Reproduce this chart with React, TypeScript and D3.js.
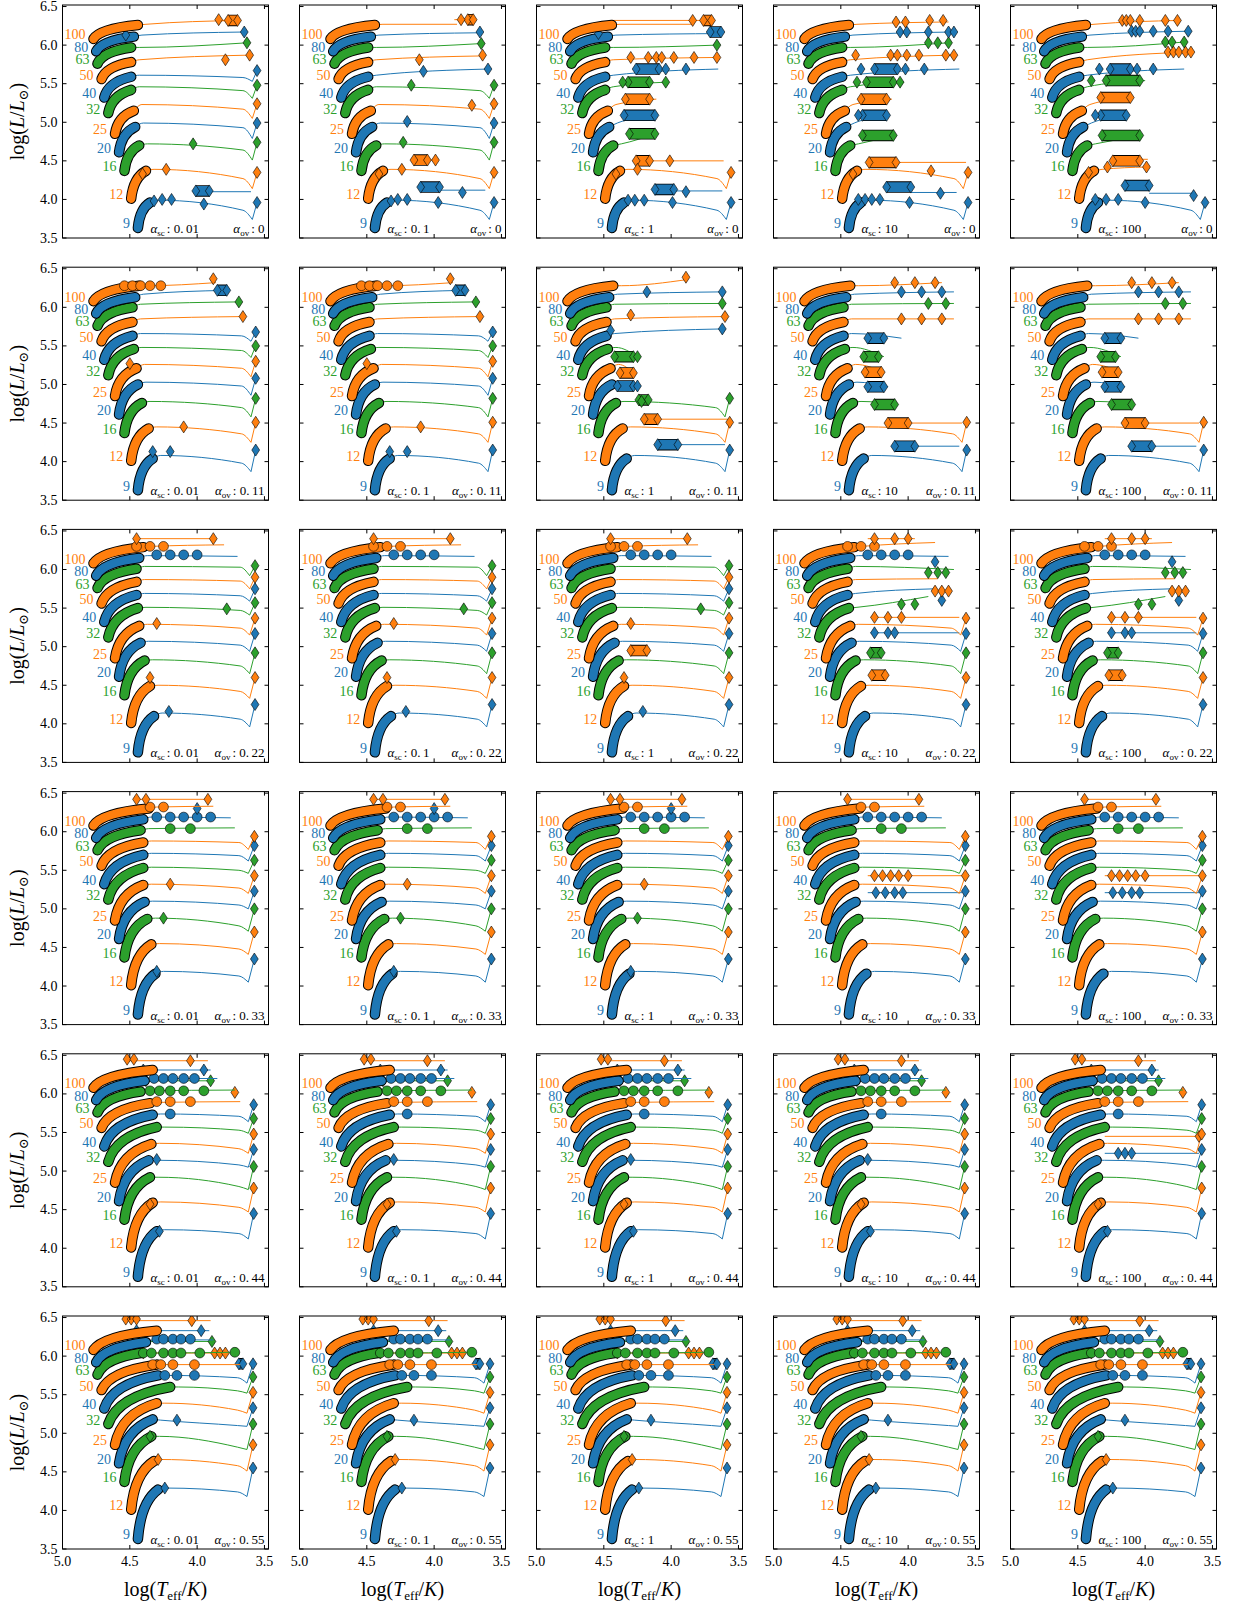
import { useEffect, useRef } from "react";
import * as d3 from "d3";

const masses = [9, 12, 16, 20, 25, 32, 40, 50, 63, 80, 100];
const trackColors = ["#1f77b4", "#ff7f0e", "#2ca02c"];
const scLabels = ["0.01", "0.1", "1", "10", "100"];
const ovLabels = ["0", "0.11", "0.22", "0.33", "0.44", "0.55"];
const xTicks = [5.0, 4.5, 4.0, 3.5];
const yTicks = [3.5, 4.0, 4.5, 5.0, 5.5, 6.0, 6.5];

// zero-age main sequence, same in every panel
const zamsT = [4.44, 4.49, 4.54, 4.58, 4.61, 4.66, 4.69, 4.71, 4.74, 4.75, 4.77];
const zamsL = [3.63, 4.01, 4.37, 4.61, 4.85, 5.12, 5.32, 5.56, 5.76, 5.92, 6.08];

// per overshoot row
const tamsT = [
  [4.35, 4.38, 4.43, 4.46, 4.47, 4.49, 4.49, 4.49, 4.49, 4.47, 4.44],
  [4.33, 4.36, 4.41, 4.44, 4.45, 4.47, 4.48, 4.48, 4.48, 4.46, 4.43],
  [4.32, 4.35, 4.39, 4.42, 4.43, 4.44, 4.45, 4.45, 4.45, 4.43, 4.40],
  [4.31, 4.34, 4.37, 4.39, 4.40, 4.40, 4.40, 4.40, 4.42, 4.40, 4.36],
  [4.30, 4.33, 4.35, 4.36, 4.34, 4.30, 4.33, 4.35, 4.42, 4.39, 4.33],
  [4.29, 4.32, 4.34, 4.33, 4.30, 4.20, 4.29, 4.30, 4.42, 4.38, 4.30],
];
const tamsL = [
  [3.96, 4.37, 4.70, 4.94, 5.15, 5.42, 5.59, 5.78, 5.97, 6.11, 6.26],
  [4.04, 4.43, 4.76, 5.00, 5.21, 5.46, 5.63, 5.81, 6.00, 6.13, 6.28],
  [4.10, 4.49, 4.82, 5.05, 5.27, 5.50, 5.67, 5.84, 6.01, 6.15, 6.29],
  [4.16, 4.54, 4.87, 5.09, 5.31, 5.53, 5.70, 5.86, 6.02, 6.16, 6.30],
  [4.22, 4.59, 4.92, 5.14, 5.35, 5.57, 5.73, 5.88, 6.03, 6.17, 6.31],
  [4.27, 4.64, 4.96, 5.18, 5.39, 5.60, 5.75, 5.89, 6.04, 6.18, 6.33],
];
const crossL = [
  [3.99, 4.39, 4.72, 4.99, 5.23, 5.46, 5.61, 5.81, 5.97, 6.13, 6.27],
  [4.08, 4.45, 4.78, 5.03, 5.26, 5.48, 5.66, 5.85, 6.04, 6.17, 6.28],
  [4.14, 4.50, 4.83, 5.07, 5.29, 5.51, 5.69, 5.87, 6.04, 6.18, 6.30],
  [4.19, 4.55, 4.88, 5.10, 5.32, 5.54, 5.72, 5.88, 6.04, 6.19, 6.32],
  [4.24, 4.60, 4.92, 5.14, 5.36, 5.57, 5.74, 5.89, 6.04, 6.20, 6.32],
  [4.29, 4.66, 4.96, 5.17, 5.39, 5.60, 5.75, 5.89, 6.04, 6.21, 6.33],
];
const redL = [
  [3.86, 4.27, 4.64, 4.93, 5.17, 5.41, 5.58, 5.79, 5.96, 6.12, 6.27],
  [3.98, 4.36, 4.70, 4.98, 5.21, 5.44, 5.63, 5.83, 6.02, 6.16, 6.28],
  [4.06, 4.42, 4.75, 5.02, 5.24, 5.47, 5.66, 5.85, 6.03, 6.17, 6.30],
  [4.13, 4.48, 4.78, 5.05, 5.27, 5.50, 5.69, 5.86, 6.03, 6.18, 6.32],
  [4.19, 4.53, 4.80, 5.08, 5.29, 5.53, 5.71, 5.87, 6.03, 6.19, 6.32],
  [4.24, 4.58, 4.82, 5.10, 5.30, 5.55, 5.72, 5.87, 6.03, 6.20, 6.33],
];
const dipL = [
  [3.74, 4.14, 4.51, 4.79, 5.05, 5.31, 5.53, 5.70, 5.88, 6.05, 6.20],
  [3.87, 4.25, 4.58, 4.86, 5.10, 5.35, 5.56, 5.72, 5.90, 6.06, 6.22],
  [3.96, 4.33, 4.65, 4.94, 5.15, 5.41, 5.59, 5.75, 5.92, 6.07, 6.24],
  [4.05, 4.41, 4.71, 5.00, 5.20, 5.46, 5.62, 5.77, 5.93, 6.08, 6.26],
  [4.12, 4.47, 4.76, 5.05, 5.23, 5.49, 5.64, 5.79, 5.94, 6.09, 6.28],
  [4.18, 4.51, 4.79, 5.09, 5.26, 5.52, 5.65, 5.80, 5.95, 6.10, 6.30],
];
const rsgL = [
  [3.96, 4.35, 4.74, 4.99, 5.24, 5.48, 5.67, 5.85, 6.02, 6.17, 6.30],
  [4.15, 4.51, 4.82, 5.08, 5.30, 5.50, 5.68, 5.86, 6.03, 6.18, 6.31],
  [4.25, 4.60, 4.92, 5.17, 5.37, 5.57, 5.75, 5.90, 6.05, 6.19, 6.33],
  [4.35, 4.70, 5.00, 5.23, 5.43, 5.63, 5.82, 5.94, 6.07, 6.20, 6.35],
  [4.45, 4.78, 5.06, 5.28, 5.48, 5.68, 5.86, 5.97, 6.08, 6.20, 6.37],
  [4.55, 4.85, 5.12, 5.33, 5.53, 5.73, 5.90, 6.00, 6.10, 6.20, 6.40],
];
const dipTRow = [3.59, 3.6, 3.61, 3.62, 3.62, 3.63];
const rsgTRow = [3.555, 3.565, 3.57, 3.575, 3.58, 3.585];

// tracks that end early, per panel: [massIndex, logT, logL]
const stopsA = [[7, 3.61, 5.87], [8, 3.63, 6.03], [9, 3.65, 6.17], [10, 3.69, 6.32]];
const stopsB = [[6, 3.6, 5.69], [7, 3.64, 5.86], [8, 3.65, 6.02], [9, 3.66, 6.16], [10, 3.83, 6.27]];
const stopsC = [[2, 4.12, 4.85], [3, 4.12, 5.09], [4, 4.11, 5.3], [5, 4.03, 5.52], [6, 3.65, 5.69], [7, 3.66, 5.84], [8, 3.66, 6.0], [9, 3.62, 6.15], [10, 3.85, 6.27]];
const stopsD = [[2, 4.11, 4.83], [3, 4.16, 5.09], [4, 4.12, 5.3], [5, 4.03, 5.52], [6, 3.62, 5.69], [7, 3.66, 5.87], [8, 3.7, 6.03], [9, 3.66, 6.17], [10, 3.7, 6.3]];
const stopsE = [[1, 3.99, 4.42], [2, 4.04, 4.83], [3, 4.14, 5.09], [4, 4.1, 5.32], [5, 4.0, 5.54], [6, 3.71, 5.69], [7, 3.66, 5.91], [8, 3.71, 6.04], [9, 3.68, 6.18], [10, 3.74, 6.32]];
const stopsF = [[7, 3.66, 5.88], [8, 3.69, 6.07], [9, 3.78, 6.22], [10, 3.86, 6.32]];
const stopsG = [[3, 4.25, 4.98], [4, 4.28, 5.15], [5, 4.25, 5.36], [6, 3.62, 5.72], [7, 3.6, 5.88], [8, 3.62, 6.05], [9, 3.62, 6.2], [10, 3.88, 6.36]];
const stopsH = [[2, 4.08, 4.74], [3, 4.15, 4.97], [4, 4.18, 5.16], [5, 4.18, 5.36], [6, 4.05, 5.6], [7, 3.66, 5.85], [8, 3.66, 6.05], [9, 3.66, 6.2], [10, 3.75, 6.32]];
const stopsI = [[9, 3.7, 6.17], [10, 3.8, 6.32]];
const stopsJ = [[5, 3.85, 5.65], [6, 3.8, 5.75], [7, 3.78, 5.88], [8, 3.66, 6.0], [9, 3.7, 6.17], [10, 3.8, 6.35]];
const stopsK = [[8, 3.72, 6.05], [9, 3.75, 6.18], [10, 3.88, 6.33]];
const stopsM = [[7, 3.68, 5.9], [8, 3.72, 6.05], [9, 3.85, 6.2], [10, 4.33, 6.31]];
const stopsN = [[7, 3.68, 5.89], [8, 3.72, 6.05], [9, 3.88, 6.21], [10, 4.3, 6.33]];

const panelStops = [
  stopsA, stopsB, stopsC, stopsD, stopsE,
  stopsF, stopsF, stopsG, stopsH, stopsH,
  stopsI, stopsI, stopsI, stopsJ, stopsJ,
  stopsK, stopsK, stopsK, stopsK, stopsK,
  stopsM, stopsM, stopsM, stopsM, stopsM,
  stopsN, stopsN, stopsN, stopsN, stopsN,
];

// diamond markers: [massIndex, logT, logL]
const diamondsR5 = [[10, 4.53, 6.48], [10, 4.49, 6.48], [10, 4.45, 6.48], [10, 4.04, 6.46], [9, 4.45, 6.33], [9, 3.97, 6.33], [8, 4.4, 6.19], [8, 3.89, 6.19], [7, 4.4, 6.04], [7, 3.87, 6.04], [7, 3.83, 6.04], [7, 3.79, 6.04], [3, 4.15, 5.17], [2, 4.35, 4.96], [1, 4.29, 4.66], [0, 4.24, 4.29]];
const diamondsR4 = [[10, 4.52, 6.45], [10, 4.47, 6.45], [10, 4.05, 6.43], [9, 4.4, 6.31], [9, 3.95, 6.31], [8, 4.38, 6.17], [8, 3.9, 6.17], [7, 3.72, 6.02], [3, 4.3, 5.15], [1, 4.35, 4.57], [0, 4.28, 4.22]];
const diamondsR4e = [[10, 4.52, 6.45], [10, 4.47, 6.45], [10, 4.05, 6.43], [9, 4.4, 6.31], [9, 3.95, 6.31], [8, 4.38, 6.17], [8, 3.9, 6.17], [7, 3.72, 6.02], [3, 4.2, 5.23], [3, 4.15, 5.23], [3, 4.1, 5.23], [4, 3.6, 5.45], [1, 4.35, 4.57], [0, 4.28, 4.22]];
const diamondsR3 = [[10, 4.45, 6.42], [10, 4.38, 6.42], [10, 3.92, 6.42], [9, 4.0, 6.3], [4, 4.2, 5.32], [2, 4.25, 4.88], [0, 4.3, 4.19]];
const diamondsR3b = [[10, 4.45, 6.42], [10, 3.92, 6.42], [4, 4.25, 5.43], [4, 4.19, 5.43], [4, 4.13, 5.43], [4, 4.07, 5.43], [4, 4.0, 5.43], [3, 4.24, 5.21], [3, 4.17, 5.21], [3, 4.1, 5.21], [3, 4.04, 5.21]];
const diamondsR2 = [[10, 4.45, 6.4], [10, 3.88, 6.4], [5, 3.78, 5.49], [4, 4.3, 5.3], [1, 4.35, 4.6], [0, 4.21, 4.16]];
const diamondsR2b = [[10, 4.25, 6.4], [10, 4.1, 6.4], [10, 4.0, 6.4], [9, 3.8, 6.1], [8, 3.85, 5.96], [8, 3.78, 5.96], [8, 3.72, 5.96], [7, 3.8, 5.72], [7, 3.75, 5.72], [7, 3.7, 5.72], [6, 3.75, 5.6], [5, 4.05, 5.55], [5, 3.95, 5.55], [4, 4.25, 5.38], [4, 4.15, 5.38], [4, 4.05, 5.38], [3, 4.25, 5.18], [3, 4.15, 5.18], [3, 4.1, 5.18]];
const diamondsR1 = [[10, 3.88, 6.37], [8, 3.69, 6.07], [7, 3.66, 5.88], [4, 4.5, 5.27], [1, 4.1, 4.45], [0, 4.33, 4.13], [0, 4.2, 4.13]];
const diamondsR1c = [[10, 3.89, 6.39], [9, 4.18, 6.2], [9, 3.62, 6.2], [8, 3.62, 6.05], [7, 4.3, 5.9], [7, 3.6, 5.88], [6, 4.45, 5.7], [6, 3.62, 5.72], [5, 4.25, 5.36], [3, 4.25, 4.98], [2, 4.22, 4.78]];
const diamondsR1d = [[10, 4.1, 6.32], [10, 3.95, 6.32], [10, 3.8, 6.32], [9, 4.05, 6.2], [9, 3.9, 6.2], [9, 3.75, 6.2], [8, 3.85, 6.05], [8, 3.72, 6.05], [7, 4.05, 5.85], [7, 3.9, 5.85], [7, 3.75, 5.85]];

const panelDiamonds = [
  [[10, 3.84, 6.33], [9, 4.53, 6.13], [9, 3.65, 6.17], [8, 3.63, 6.03], [7, 3.79, 5.81], [7, 3.61, 5.87], [2, 4.03, 4.72], [1, 4.405, 4.33], [1, 4.23, 4.39], [0, 4.32, 3.98], [0, 4.26, 4.0], [0, 4.19, 4.0], [0, 3.95, 3.94]],
  [[10, 3.8, 6.33], [9, 3.66, 6.17], [8, 3.65, 6.02], [7, 4.11, 5.81], [7, 3.64, 5.87], [6, 4.08, 5.66], [6, 3.6, 5.69], [5, 4.17, 5.48], [4, 3.72, 5.22], [3, 4.2, 5.01], [2, 4.23, 4.74], [1, 4.41, 4.33], [1, 4.24, 4.39], [1, 3.99, 4.51], [0, 4.32, 3.98], [0, 4.27, 4.0], [0, 4.2, 4.0], [0, 3.79, 4.09], [0, 3.97, 3.96]],
  [[10, 3.84, 6.32], [9, 4.54, 6.15], [8, 3.66, 6.0], [7, 4.3, 5.84], [7, 4.17, 5.84], [7, 4.11, 5.84], [7, 4.07, 5.84], [7, 3.98, 5.84], [7, 3.83, 5.84], [7, 3.66, 5.84], [6, 4.04, 5.69], [6, 3.89, 5.69], [5, 4.36, 5.52], [5, 4.04, 5.52], [1, 4.41, 4.33], [1, 4.25, 4.39], [1, 4.01, 4.5], [0, 4.32, 3.99], [0, 4.27, 3.99], [0, 4.2, 3.99], [0, 3.89, 4.1], [0, 3.99, 3.96]],
  [[10, 4.09, 6.3], [10, 4.02, 6.3], [10, 3.84, 6.32], [10, 3.74, 6.32], [9, 4.06, 6.17], [9, 4.01, 6.17], [9, 3.85, 6.17], [9, 3.7, 6.17], [9, 3.66, 6.17], [8, 3.85, 6.03], [8, 3.78, 6.03], [8, 3.7, 6.03], [7, 4.39, 5.87], [7, 4.13, 5.87], [7, 4.08, 5.87], [7, 4.01, 5.87], [7, 3.92, 5.87], [7, 3.72, 5.87], [7, 3.66, 5.87], [6, 4.35, 5.69], [6, 4.02, 5.69], [6, 3.88, 5.69], [5, 4.38, 5.52], [5, 4.06, 5.52], [3, 4.37, 5.09], [1, 4.41, 4.33], [1, 3.83, 4.37], [0, 4.37, 4.0], [0, 4.32, 4.0], [0, 4.27, 4.0], [0, 4.21, 4.0], [0, 3.76, 4.08], [0, 3.99, 3.96]],
  [[10, 4.17, 6.32], [10, 4.14, 6.32], [10, 4.11, 6.32], [10, 4.04, 6.32], [10, 3.85, 6.32], [10, 3.76, 6.32], [9, 4.1, 6.18], [9, 4.07, 6.18], [9, 4.04, 6.18], [9, 3.94, 6.18], [9, 3.83, 6.18], [9, 3.68, 6.18], [8, 3.85, 6.04], [8, 3.8, 6.04], [8, 3.71, 6.04], [7, 3.83, 5.91], [7, 3.79, 5.91], [7, 3.75, 5.91], [7, 3.7, 5.91], [7, 3.66, 5.91], [6, 4.34, 5.69], [6, 4.06, 5.69], [6, 3.94, 5.69], [5, 4.4, 5.54], [3, 4.37, 5.09], [1, 4.42, 4.35], [1, 4.28, 4.42], [1, 3.99, 4.42], [0, 4.37, 4.0], [0, 4.29, 4.0], [0, 4.2, 4.0], [0, 3.64, 4.05], [0, 4.0, 3.96]],
  diamondsR1, diamondsR1, diamondsR1c, diamondsR1d, diamondsR1d,
  diamondsR2, diamondsR2, diamondsR2, diamondsR2b, diamondsR2b,
  diamondsR3, diamondsR3, diamondsR3, diamondsR3b, diamondsR3b,
  diamondsR4, diamondsR4, diamondsR4, diamondsR4, diamondsR4e,
  diamondsR5, diamondsR5, diamondsR5, diamondsR5, diamondsR5,
];

// dense marker clusters: [massIndex, logT from, logT to, logL]
const blobsR1c = [[5, 4.42, 4.28, 5.36], [4, 4.38, 4.28, 5.15], [3, 4.4, 4.28, 4.98], [2, 4.24, 4.17, 4.8], [1, 4.2, 4.1, 4.55], [0, 4.1, 3.95, 4.22]];
const blobsR1d = [[6, 4.3, 4.18, 5.6], [5, 4.33, 4.22, 5.36], [4, 4.32, 4.2, 5.16], [3, 4.3, 4.18, 4.97], [2, 4.25, 4.1, 4.74], [1, 4.15, 4.0, 4.5], [0, 4.1, 3.95, 4.2]];
const blobsR2b = [[2, 4.28, 4.2, 4.92], [1, 4.27, 4.17, 4.63]];
const panelBlobs = [
  [[10, 3.77, 3.7, 6.32], [0, 4.01, 3.91, 4.11]],
  [[10, 3.75, 3.71, 6.33], [1, 4.15, 4.05, 4.51], [0, 4.1, 3.96, 4.16]],
  [[10, 3.76, 3.7, 6.32], [9, 3.71, 3.63, 6.17], [6, 4.26, 4.09, 5.69], [5, 4.32, 4.16, 5.52], [4, 4.34, 4.16, 5.3], [3, 4.35, 4.12, 5.09], [2, 4.31, 4.12, 4.85], [1, 4.26, 4.16, 4.5], [0, 4.12, 3.98, 4.13]],
  [[6, 4.25, 4.08, 5.69], [5, 4.31, 4.11, 5.52], [4, 4.35, 4.16, 5.3], [3, 4.34, 4.16, 5.09], [2, 4.34, 4.11, 4.83], [1, 4.29, 4.09, 4.48], [0, 4.16, 3.98, 4.16]],
  [[6, 4.26, 4.11, 5.69], [5, 4.29, 4.04, 5.54], [4, 4.33, 4.11, 5.32], [3, 4.33, 4.14, 5.09], [2, 4.32, 4.04, 4.83], [1, 4.24, 4.04, 4.5], [0, 4.15, 3.97, 4.18]],
  [[9, 3.85, 3.78, 6.22]], [[9, 3.84, 3.77, 6.22]], blobsR1c, blobsR1d, blobsR1d,
  [], [], [[4, 4.3, 4.18, 4.95]], blobsR2b, blobsR2b,
  [], [], [], [], [],
  [], [], [], [], [],
  [[6, 3.69, 3.66, 5.9]], [[6, 3.69, 3.66, 5.9]], [[6, 3.69, 3.66, 5.9]], [[6, 3.69, 3.66, 5.9]], [[6, 3.69, 3.66, 5.9]],
];

// circle markers: [massIndex, logT, logL]
const circlesR1 = [[10, 4.54, 6.28], [10, 4.48, 6.28], [10, 4.42, 6.28], [10, 4.35, 6.28], [10, 4.27, 6.28]];
const circlesR2 = [[10, 4.45, 6.3], [10, 4.35, 6.3], [10, 4.25, 6.3], [9, 4.3, 6.19], [9, 4.2, 6.19], [9, 4.1, 6.19], [9, 4.0, 6.19]];
const circlesR3 = [[10, 4.35, 6.32], [10, 4.25, 6.32], [9, 4.3, 6.19], [9, 4.2, 6.19], [9, 4.1, 6.19], [9, 4.0, 6.19], [9, 3.9, 6.19], [8, 4.2, 6.04], [8, 4.05, 6.04]];
const circlesR4 = [[9, 4.32, 6.2], [9, 4.25, 6.2], [9, 4.18, 6.2], [9, 4.1, 6.2], [9, 4.02, 6.2], [8, 4.35, 6.04], [8, 4.28, 6.04], [8, 4.2, 6.04], [8, 4.1, 6.04], [8, 3.95, 6.04], [7, 4.3, 5.9], [7, 4.2, 5.9], [7, 4.05, 5.9], [6, 4.2, 5.74]];
const circlesR5 = [[9, 4.3, 6.22], [9, 4.25, 6.22], [9, 4.18, 6.22], [9, 4.12, 6.22], [9, 4.05, 6.22], [8, 4.4, 6.04], [8, 4.34, 6.04], [8, 4.25, 6.04], [8, 4.18, 6.04], [8, 4.12, 6.04], [8, 3.98, 6.04], [8, 3.72, 6.05], [7, 4.33, 5.89], [7, 4.27, 5.89], [7, 4.18, 5.89], [7, 4.02, 5.89], [6, 4.24, 5.75], [6, 4.15, 5.75], [6, 4.02, 5.75]];
const panelCircles = [
  [], [], [], [], [],
  circlesR1, circlesR1, [], [], [],
  circlesR2, circlesR2, circlesR2, circlesR2, circlesR2,
  circlesR3, circlesR3, circlesR3, circlesR3, circlesR3,
  circlesR4, circlesR4, circlesR4, circlesR4, circlesR4,
  circlesR5, circlesR5, circlesR5, circlesR5, circlesR5,
];

// extra thin track pieces (loops): [massIndex, logT from, logT to, logL]
const branchesR2 = [[10, 4.45, 3.88, 6.4]];
const branchesR2b = [[10, 4.3, 3.95, 6.4], [4, 4.28, 3.62, 5.38], [3, 4.28, 3.62, 5.18]];
const branchesR3 = [[10, 4.45, 3.9, 6.42]];
const branchesR3b = [[10, 4.45, 3.9, 6.42], [4, 4.3, 3.6, 5.43], [3, 4.3, 3.6, 5.21]];
const branchesR4 = [[10, 4.52, 3.92, 6.43], [9, 4.4, 3.9, 6.31], [8, 4.38, 3.88, 6.17]];
const branchesR4e = [[10, 4.52, 3.92, 6.43], [9, 4.4, 3.9, 6.31], [8, 4.38, 3.88, 6.17], [3, 4.3, 3.6, 5.23], [4, 4.3, 3.6, 5.45]];
const branchesR5 = [[10, 4.53, 3.9, 6.46], [9, 4.45, 3.91, 6.33], [8, 4.4, 3.89, 6.19], [7, 4.4, 3.78, 6.04]];
const panelBranches = [
  [[0, 4.01, 3.6, 4.1], [10, 3.86, 3.7, 6.32]],
  [[10, 3.85, 3.71, 6.33], [0, 3.96, 3.62, 4.12], [1, 4.05, 3.99, 4.51]],
  [[10, 4.44, 3.7, 6.32], [1, 4.26, 3.61, 4.5], [0, 3.98, 3.62, 4.11]],
  [[1, 4.09, 3.57, 4.48], [0, 3.98, 3.64, 4.09]],
  [[1, 4.24, 3.98, 4.52], [0, 3.97, 3.64, 4.08]],
  [], [], [[1, 4.1, 3.58, 4.55], [0, 3.95, 3.6, 4.22]], [[1, 4.0, 3.6, 4.5], [0, 3.95, 3.62, 4.2]], [[1, 4.0, 3.6, 4.5], [0, 3.95, 3.62, 4.2]],
  branchesR2, branchesR2, branchesR2, branchesR2b, branchesR2b,
  branchesR3, branchesR3, branchesR3, branchesR3b, branchesR3b,
  branchesR4, branchesR4, branchesR4, branchesR4, branchesR4e,
  branchesR5, branchesR5, branchesR5, branchesR5, branchesR5,
];

const COL0 = 62.5;
const COL_STEP = 237;
const ROW0 = 5;
const ROW_STEP = 262.2;
const PW = 206;
const PH = 233;
const FONT = "'Liberation Serif', 'DejaVu Serif', serif";
const DIAMOND = "M0,-6L3.9,0L0,6L-3.9,0Z";

const App = () => {
  const ref = useRef<SVGSVGElement>(null);

  useEffect(() => {
    const svg = d3.select(ref.current);
    svg.selectAll("*").remove();

    for (let r = 0; r < 6; r++) {
      for (let c = 0; c < 5; c++) {
        const p = r * 5 + c;
        const left = COL0 + c * COL_STEP;
        const top = ROW0 + r * ROW_STEP;
        const x = d3.scaleLinear().domain([5.0, 3.47]).range([left, left + PW]);
        const y = d3.scaleLinear().domain([3.5, 6.52]).range([top + PH, top]);

        const clipId = `clip-${p}`;
        svg.append("clipPath").attr("id", clipId)
          .append("rect").attr("x", left).attr("y", top).attr("width", PW).attr("height", PH);
        const g = svg.append("g").attr("clip-path", `url(#${clipId})`);
        const labels = svg.append("g");

        const curve = d3.line<number[]>().x((d) => x(d[0])).y((d) => y(d[1])).curve(d3.curveMonotoneX);

        masses.forEach((mass, i) => {
          const col = trackColors[i % 3];
          const tT = tamsT[r][i];
          const tL = tamsL[r][i];
          const stop = panelStops[p].find((s) => s[0] === i);
          const lines = g.append("g").attr("fill", "none").attr("stroke", col).attr("stroke-width", 1);

          if (stop) {
            if (stop[1] < tT - 0.08) {
              lines.append("path").attr("d", curve([[tT, tL], [tT - 0.06, crossL[r][i]], [stop[1], stop[2]]]));
            } else if (stop[1] < tT) {
              lines.append("path").attr("d", curve([[tT, tL], [stop[1], stop[2]]]));
            }
          } else {
            const dT = dipTRow[r];
            lines.append("path").attr("d", curve([[tT, tL], [tT - 0.06, crossL[r][i]], [dT + 0.07, redL[r][i]], [dT, dipL[r][i]]]));
            lines.append("line")
              .attr("x1", x(dT)).attr("y1", y(dipL[r][i]))
              .attr("x2", x(rsgTRow[r])).attr("y2", y(rsgL[r][i]));
          }
          panelBranches[p].filter((b) => b[0] === i).forEach((b) => {
            lines.append("line")
              .attr("x1", x(b[1])).attr("y1", y(b[3]))
              .attr("x2", x(b[2])).attr("y2", y(b[3]));
          });

          // main-sequence band of dense markers
          const x0 = x(zamsT[i]);
          const y0 = y(zamsL[i]);
          const x1 = x(tT);
          const y1 = y(tL);
          const ms = d3.path();
          ms.moveTo(x0, y0);
          ms.quadraticCurveTo(x0 + 0.15 * (x1 - x0), y1 + 0.25 * (y0 - y1), x1, y1);
          g.append("path").attr("d", ms.toString()).attr("fill", "none")
            .attr("stroke", "#000").attr("stroke-width", 10.5).attr("stroke-linecap", "round");
          g.append("path").attr("d", ms.toString()).attr("fill", "none")
            .attr("stroke", col).attr("stroke-width", 8.5).attr("stroke-linecap", "round");

          panelBlobs[p].filter((b) => b[0] === i).forEach((b) => {
            const seg = `M${x(b[1])},${y(b[3])}L${x(b[2])},${y(b[3])}`;
            g.append("path").attr("d", seg).attr("stroke", "#000").attr("stroke-width", 11.5).attr("stroke-linecap", "butt");
            g.append("path").attr("d", seg).attr("stroke", col).attr("stroke-width", 9.8).attr("stroke-linecap", "butt");
            [b[1], b[2]].forEach((t) => {
              g.append("path").attr("d", DIAMOND).attr("transform", `translate(${x(t)},${y(b[3])})`)
                .attr("fill", col).attr("stroke", "#000").attr("stroke-width", 0.6);
            });
          });

          panelCircles[p].filter((d) => d[0] === i).forEach((d) => {
            g.append("circle").attr("cx", x(d[1])).attr("cy", y(d[2])).attr("r", 4.9)
              .attr("fill", col).attr("stroke", "#000").attr("stroke-width", 0.6);
          });

          const dias = panelDiamonds[p].filter((d) => d[0] === i).map((d) => [d[1], d[2]]);
          if (!stop) dias.push([rsgTRow[r], rsgL[r][i]]);
          dias.forEach((d) => {
            g.append("path").attr("d", DIAMOND).attr("transform", `translate(${x(d[0])},${y(d[1])})`)
              .attr("fill", col).attr("stroke", "#000").attr("stroke-width", 0.6);
          });

          labels.append("text")
            .attr("x", x0 - 8).attr("y", y0 - 4)
            .attr("dominant-baseline", "central")
            .attr("text-anchor", "end")
            .attr("font-family", FONT).attr("font-size", 14)
            .attr("fill", col)
            .text(mass);
        });

        // frame and inward ticks
        svg.append("rect").attr("x", left).attr("y", top).attr("width", PW).attr("height", PH)
          .attr("fill", "none").attr("stroke", "#000").attr("stroke-width", 1);
        const ticks = svg.append("g").attr("stroke", "#000").attr("stroke-width", 1);
        xTicks.forEach((t) => {
          ticks.append("line").attr("x1", x(t)).attr("x2", x(t)).attr("y1", top + PH).attr("y2", top + PH - 4);
          ticks.append("line").attr("x1", x(t)).attr("x2", x(t)).attr("y1", top).attr("y2", top + 4);
        });
        yTicks.forEach((t) => {
          ticks.append("line").attr("x1", left).attr("x2", left + 4).attr("y1", y(t)).attr("y2", y(t));
          ticks.append("line").attr("x1", left + PW).attr("x2", left + PW - 4).attr("y1", y(t)).attr("y2", y(t));
        });

        if (c === 0) {
          yTicks.forEach((t) => {
            svg.append("text").attr("x", left - 5).attr("y", y(t)).attr("dominant-baseline", "central")
              .attr("text-anchor", "end").attr("font-family", FONT).attr("font-size", 14)
              .text(t.toFixed(1));
          });
          const yl = svg.append("text")
            .attr("transform", `translate(24,${top + PH / 2}) rotate(-90)`)
            .attr("text-anchor", "middle").attr("font-family", FONT).attr("font-size", 20);
          yl.append("tspan").text("log(");
          yl.append("tspan").attr("font-style", "italic").text("L");
          yl.append("tspan").text("/");
          yl.append("tspan").attr("font-style", "italic").text("L");
          yl.append("tspan").attr("font-size", 13).attr("dy", 4).text("⊙");
          yl.append("tspan").attr("dy", -4).text(")");
        }
        if (r === 5) {
          xTicks.forEach((t) => {
            svg.append("text").attr("x", x(t)).attr("y", top + PH + 17)
              .attr("text-anchor", "middle").attr("font-family", FONT).attr("font-size", 14)
              .text(t.toFixed(1));
          });
          const xl = svg.append("text")
            .attr("x", left + PW / 2).attr("y", top + PH + 47)
            .attr("text-anchor", "middle").attr("font-family", FONT).attr("font-size", 20);
          xl.append("tspan").text("log(");
          xl.append("tspan").attr("font-style", "italic").text("T");
          xl.append("tspan").attr("font-size", 13).attr("dy", 4).text("eff");
          xl.append("tspan").attr("dy", -4).text("/");
          xl.append("tspan").attr("font-style", "italic").text("K");
          xl.append("tspan").text(")");
        }

        // parameter annotations
        const [scInt, scFrac] = scLabels[c].split(".");
        const a1 = svg.append("text").attr("x", left + 88).attr("y", top + PH - 5)
          .attr("font-family", FONT).attr("font-size", 13);
        a1.append("tspan").attr("font-style", "italic").text("α");
        a1.append("tspan").attr("font-size", 9).attr("dy", 3).text("sc");
        a1.append("tspan").attr("dy", -3).attr("dx", 2).text(scFrac ? `: ${scInt}.` : `: ${scInt}`);
        if (scFrac) a1.append("tspan").attr("dx", 2.5).text(scFrac);

        const [ovInt, ovFrac] = ovLabels[r].split(".");
        const a2 = svg.append("text").attr("x", left + PW - 4).attr("y", top + PH - 5)
          .attr("text-anchor", "end").attr("font-family", FONT).attr("font-size", 13);
        a2.append("tspan").attr("font-style", "italic").text("α");
        a2.append("tspan").attr("font-size", 9).attr("dy", 3).text("ov");
        a2.append("tspan").attr("dy", -3).attr("dx", 2).text(ovFrac ? `: ${ovInt}.` : `: ${ovInt}`);
        if (ovFrac) a2.append("tspan").attr("dx", 2.5).text(ovFrac);
      }
    }
  }, []);

  return (
    <svg
      ref={ref}
      width={1238}
      height={1602}
      style={{ position: "absolute", left: 0, top: 0, background: "#fff" }}
    />
  );
};

export default App;
